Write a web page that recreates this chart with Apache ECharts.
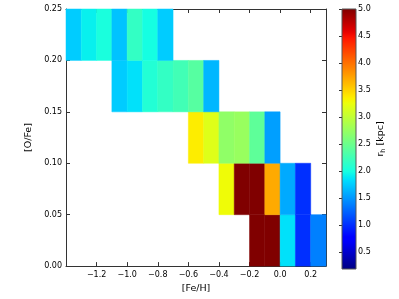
<!DOCTYPE html>
<html>
<head>
<meta charset="utf-8">
<script src="https://cdn.jsdelivr.net/npm/echarts@6/dist/echarts.min.js"></script>
<style>html,body{margin:0;padding:0;background:#fff;}#c{width:399px;height:299px;}</style>
</head>
<body>
<div id="c"></div>
<script>
// [Fe/H] bin centres and [O/Fe] bin centres
const feH = [-1.35,-1.25,-1.15,-1.05,-0.95,-0.85,-0.75,-0.65,-0.55,-0.45,-0.35,-0.25,-0.15,-0.05,0.05,0.15,0.25];
const ofe = [0.025, 0.075, 0.125, 0.175, 0.225];
const binW = 0.1, binH = 0.05;
// r_h [kpc] per [O/Fe] row (index matches feH)
const rh_000 = [null,null,null,null,null,null,null,null,null,null,null,null,5.0,5.0,1.85,1.01,1.39];
const rh_005 = [null,null,null,null,null,null,null,null,null,null,3.27,5.0,5.0,3.70,1.59,1.01,null];
const rh_010 = [null,null,null,null,null,null,null,null,3.36,3.17,2.71,2.76,2.42,1.54,null,null,null];
const rh_015 = [null,null,null,1.75,1.85,2.07,2.17,2.25,2.37,1.65,null,null,null,null,null,null,null];
const rh_020 = [1.75,1.92,2.02,1.71,2.17,1.99,1.75,null,null,null,null,null,null,null,null,null,null];
const rows = [rh_000, rh_005, rh_010, rh_015, rh_020];
const xTicks = [-1.2,-1.0,-0.8,-0.6,-0.4,-0.2,0.0,0.2];
const yTicks = [0.00,0.05,0.10,0.15,0.20,0.25];
const cbTicks = [0.5,1.0,1.5,2.0,2.5,3.0,3.5,4.0,4.5,5.0];
const cbMin = 0.185, cbMax = 5.0;

function interp(pts, t){
  for (let i=1;i<pts.length;i++){
    if (t <= pts[i][0]){
      const a=pts[i-1], b=pts[i];
      return a[1] + (b[1]-a[1])*(t-a[0])/(b[0]-a[0]);
    }
  }
  return pts[pts.length-1][1];
}
function jet(t){
  const r = interp([[0,0],[0.35,0],[0.66,1],[0.89,1],[1,0.5]], t);
  const g = interp([[0,0],[0.125,0],[0.375,1],[0.64,1],[0.91,0],[1,0]], t);
  const b = interp([[0,0.5],[0.11,1],[0.34,1],[0.65,0],[1,0]], t);
  const h = v => Math.round(v*255).toString(16).padStart(2,'0');
  return '#'+h(r)+h(g)+h(b);
}
const N = 97;
const jetColors = [];
for (let i=0;i<N;i++) jetColors.push(jet(i/(N-1)));
const gradStops = jetColors.map((c,i)=>({offset: 1 - i/(N-1), color: c}));

const data = [];
rows.forEach((row, j) => row.forEach((v, i) => { if (v !== null) data.push([feH[i], ofe[j], v]); }));

const fmtMinus = (v, d) => { const s = Math.abs(v).toFixed(d); return (v < -1e-9 ? '\u2212' : '') + s; };
const font = 'DejaVu Sans';
const tickFont = {fontFamily: font, fontSize: 8, color: '#000'};
const axLine = {show: true, onZero: false, lineStyle: {color: '#333', width: 1}};

const chart = echarts.init(document.getElementById('c'), null, {renderer: 'canvas'});
chart.setOption({
  animation: false,
  backgroundColor: '#fff',
  grid: [
    {left: 66, top: 9, width: 260, height: 260},
    {left: 342, top: 9, width: 14, height: 260}
  ],
  xAxis: [
    {type: 'value', gridIndex: 0, min: -1.4, max: 0.3, interval: 0.2, position: 'bottom',
     axisLine: axLine, splitLine: {show: false},
     axisTick: {inside: true, length: 4, customValues: xTicks, lineStyle: {color: '#333'}},
     axisLabel: Object.assign({customValues: xTicks, margin: 5, formatter: v => fmtMinus(v, 1)}, tickFont),
     name: '[Fe/H]', nameLocation: 'middle', nameGap: 17,
     nameTextStyle: {fontFamily: font, fontSize: 9.5, color: '#000'}},
    {type: 'value', gridIndex: 0, min: -1.4, max: 0.3, interval: 0.2, position: 'top',
     axisLine: axLine, splitLine: {show: false},
     axisTick: {inside: true, length: 4, customValues: xTicks, lineStyle: {color: '#333'}},
     axisLabel: {show: false}},
    {type: 'value', gridIndex: 1, min: 0, max: 1, show: false}
  ],
  yAxis: [
    {type: 'value', gridIndex: 0, min: 0, max: 0.25, interval: 0.05, position: 'left',
     axisLine: axLine, splitLine: {show: false},
     axisTick: {inside: true, length: 4, lineStyle: {color: '#333'}},
     axisLabel: Object.assign({margin: 4, formatter: v => v.toFixed(2)}, tickFont),
     name: '[O/Fe]', nameLocation: 'middle', nameGap: 27, nameRotate: 90,
     nameTextStyle: {fontFamily: font, fontSize: 9.5, color: '#000'}},
    {type: 'value', gridIndex: 0, min: 0, max: 0.25, interval: 0.05, position: 'right',
     axisLine: axLine, splitLine: {show: false},
     axisTick: {inside: true, length: 4, lineStyle: {color: '#333'}},
     axisLabel: {show: false}},
    {type: 'value', gridIndex: 1, min: cbMin, max: cbMax, position: 'right',
     axisLine: {show: false}, splitLine: {show: false},
     axisTick: {inside: true, length: 3, customValues: cbTicks, lineStyle: {color: '#333'}},
     axisLabel: Object.assign({customValues: cbTicks, margin: 2, formatter: v => v.toFixed(1)}, tickFont),
     name: '{r|r}{s|h} [kpc]', nameLocation: 'middle', nameGap: 18, nameRotate: 90,
     nameTextStyle: {fontFamily: font, fontSize: 9.5, color: '#000',
       rich: {r: {fontFamily: font, fontSize: 9.5, color: '#000'},
              s: {fontFamily: font, fontSize: 6.5, color: '#000', verticalAlign: 'bottom', padding: [6,0,0,0]}}}}
  ],
  visualMap: {
    type: 'continuous', show: false, min: cbMin, max: cbMax, dimension: 2, seriesIndex: 0,
    inRange: {color: jetColors}
  },
  series: [
    {type: 'custom', xAxisIndex: 0, yAxisIndex: 0, data: data, encode: {x: 0, y: 1},
     renderItem: function(params, api){
       const p = api.coord([api.value(0) - binW/2, api.value(1) + binH/2]);
       const s = api.size([binW, binH]);
       const c = api.visual('color');
       return {type: 'rect', shape: {x: p[0], y: p[1], width: s[0], height: s[1]},
               style: {fill: c, stroke: c, lineWidth: 0.5}};
     }, z: 1},
    {type: 'custom', xAxisIndex: 2, yAxisIndex: 2, data: [[0, cbMin]],
     renderItem: function(params, api){
       const p1 = api.coord([0, cbMax]);
       const p2 = api.coord([1, cbMin]);
       return {type: 'rect', shape: {x: p1[0], y: p1[1], width: p2[0]-p1[0], height: p2[1]-p1[1]},
               style: {fill: new echarts.graphic.LinearGradient(0, 0, 0, 1, gradStops), stroke: '#555', lineWidth: 1}};
     }}
  ]
});
</script>
</body>
</html>
